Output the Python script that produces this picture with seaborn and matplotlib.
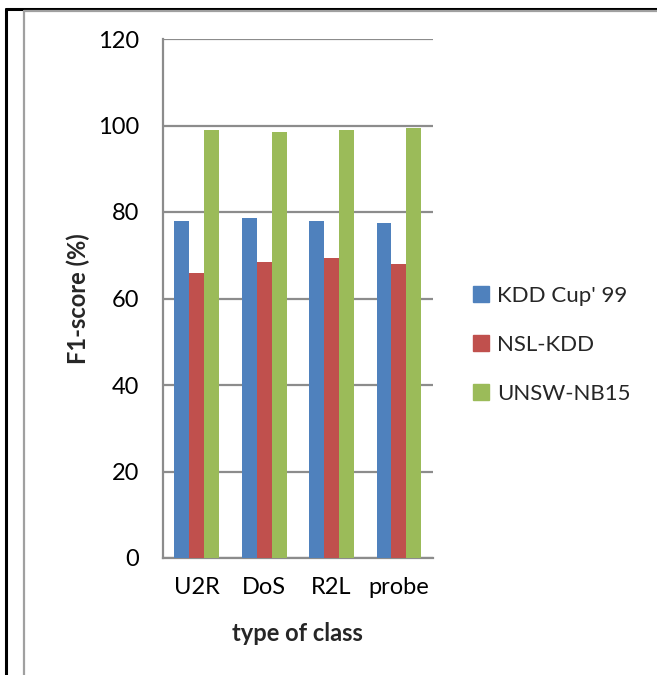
import matplotlib
matplotlib.use("Agg")
import matplotlib.pyplot as plt
from matplotlib import font_manager
from matplotlib.lines import Line2D
import seaborn as sns
import pandas as pd

classes = ["U2R", "DoS", "R2L", "probe"]
datasets = ["KDD Cup' 99", "NSL-KDD", "UNSW-NB15"]
kdd_cup_99 = [78.0, 78.5, 78.0, 77.4]
nsl_kdd = [65.9, 68.4, 69.3, 68.0]
unsw_nb15 = [99.0, 98.6, 99.0, 99.4]
y_ticks = [0, 20, 40, 60, 80, 100, 120]

colors = ["#4F81BD", "#C0504D", "#9BBB59"]

rows = []
for name, vals in zip(datasets, [kdd_cup_99, nsl_kdd, unsw_nb15]):
    for c, v in zip(classes, vals):
        rows.append({"class": c, "dataset": name, "f1": v})
df = pd.DataFrame(rows)

sns.set_style("white")
plt.rcParams["font.family"] = ["Lato", "DejaVu Sans"]

# bold face: Lato Bold when present, otherwise Open Sans Bold
has_lato_bold = any(f.name == "Lato" and (f.weight in ("bold", "heavy", "black") or
                                          (isinstance(f.weight, int) and f.weight >= 600))
                    for f in font_manager.fontManager.ttflist)
bold_family = ["Lato"] if has_lato_bold else ["Open Sans", "DejaVu Sans"]
bold_size = 17 if has_lato_bold else 15

fig = plt.figure(figsize=(6.57, 6.75), dpi=100)
ax = fig.add_axes([163 / 657, 1 - 558 / 675, (432.7 - 163) / 657, (558 - 39) / 675])

sns.barplot(data=df, x="class", y="f1", hue="dataset", palette=colors,
            width=2 / 3, gap=0, linewidth=0, saturation=1, ax=ax,
            legend=False, zorder=3)

grid_c = "#8C8C8C"
ax.set_ylim(0, 120)
ax.set_xlim(-0.5, len(classes) - 0.5)
ax.set_yticks(y_ticks)
ax.set_yticklabels([str(t) for t in y_ticks])
ax.yaxis.grid(True, color=grid_c, linewidth=1.6, zorder=0)
ax.set_axisbelow(True)

for s in ["top", "right"]:
    ax.spines[s].set_visible(False)
for s in ["left", "bottom"]:
    ax.spines[s].set_color(grid_c)
    ax.spines[s].set_linewidth(1.6)

# category separators as x-axis tick marks
ax.set_xticks([i - 0.5 for i in range(len(classes) + 1)], minor=True)
ax.set_xticks(range(len(classes)))
ax.set_xticklabels(classes)
ax.tick_params(axis="x", which="major", length=0, pad=14, labelsize=17, colors="black")
ax.tick_params(axis="x", which="minor", length=8, width=1.6, color=grid_c, direction="out")
ax.tick_params(axis="y", length=8, width=1.6, color=grid_c, direction="out", pad=9,
               labelsize=17, labelcolor="black")

ax.set_xlabel("type of class", fontsize=bold_size, fontweight="bold",
              family=bold_family, labelpad=17)
ax.set_ylabel("F1-score (%)", fontsize=bold_size, fontweight="bold",
              family=bold_family, labelpad=6)

handles = [Line2D([0], [0], marker="s", linestyle="none", markersize=11,
                  markerfacecolor=c, markeredgecolor=c) for c in colors]
fig.legend(handles, datasets, loc="center left", bbox_to_anchor=(473 / 657, 1 - 345 / 675),
           frameon=False, fontsize=16, handlelength=0.75, handletextpad=0.35,
           labelspacing=1.3, borderpad=0, borderaxespad=0)

# document frame lines
fig.add_artist(Line2D([6 / 657, 6 / 657], [0, 1 - 9 / 675], color="black", linewidth=2.2,
                      transform=fig.transFigure))
fig.add_artist(Line2D([6 / 657, 1], [1 - 9 / 675, 1 - 9 / 675], color="black", linewidth=2.2,
                      transform=fig.transFigure))
fig.add_artist(Line2D([24 / 657, 24 / 657], [0, 1 - 11 / 675], color="#A0A0A0", linewidth=1.6,
                      transform=fig.transFigure))
fig.add_artist(Line2D([24 / 657, 1], [1 - 11 / 675, 1 - 11 / 675], color="#A0A0A0", linewidth=1.6,
                      transform=fig.transFigure))

fig.savefig("out.png", dpi=100)
